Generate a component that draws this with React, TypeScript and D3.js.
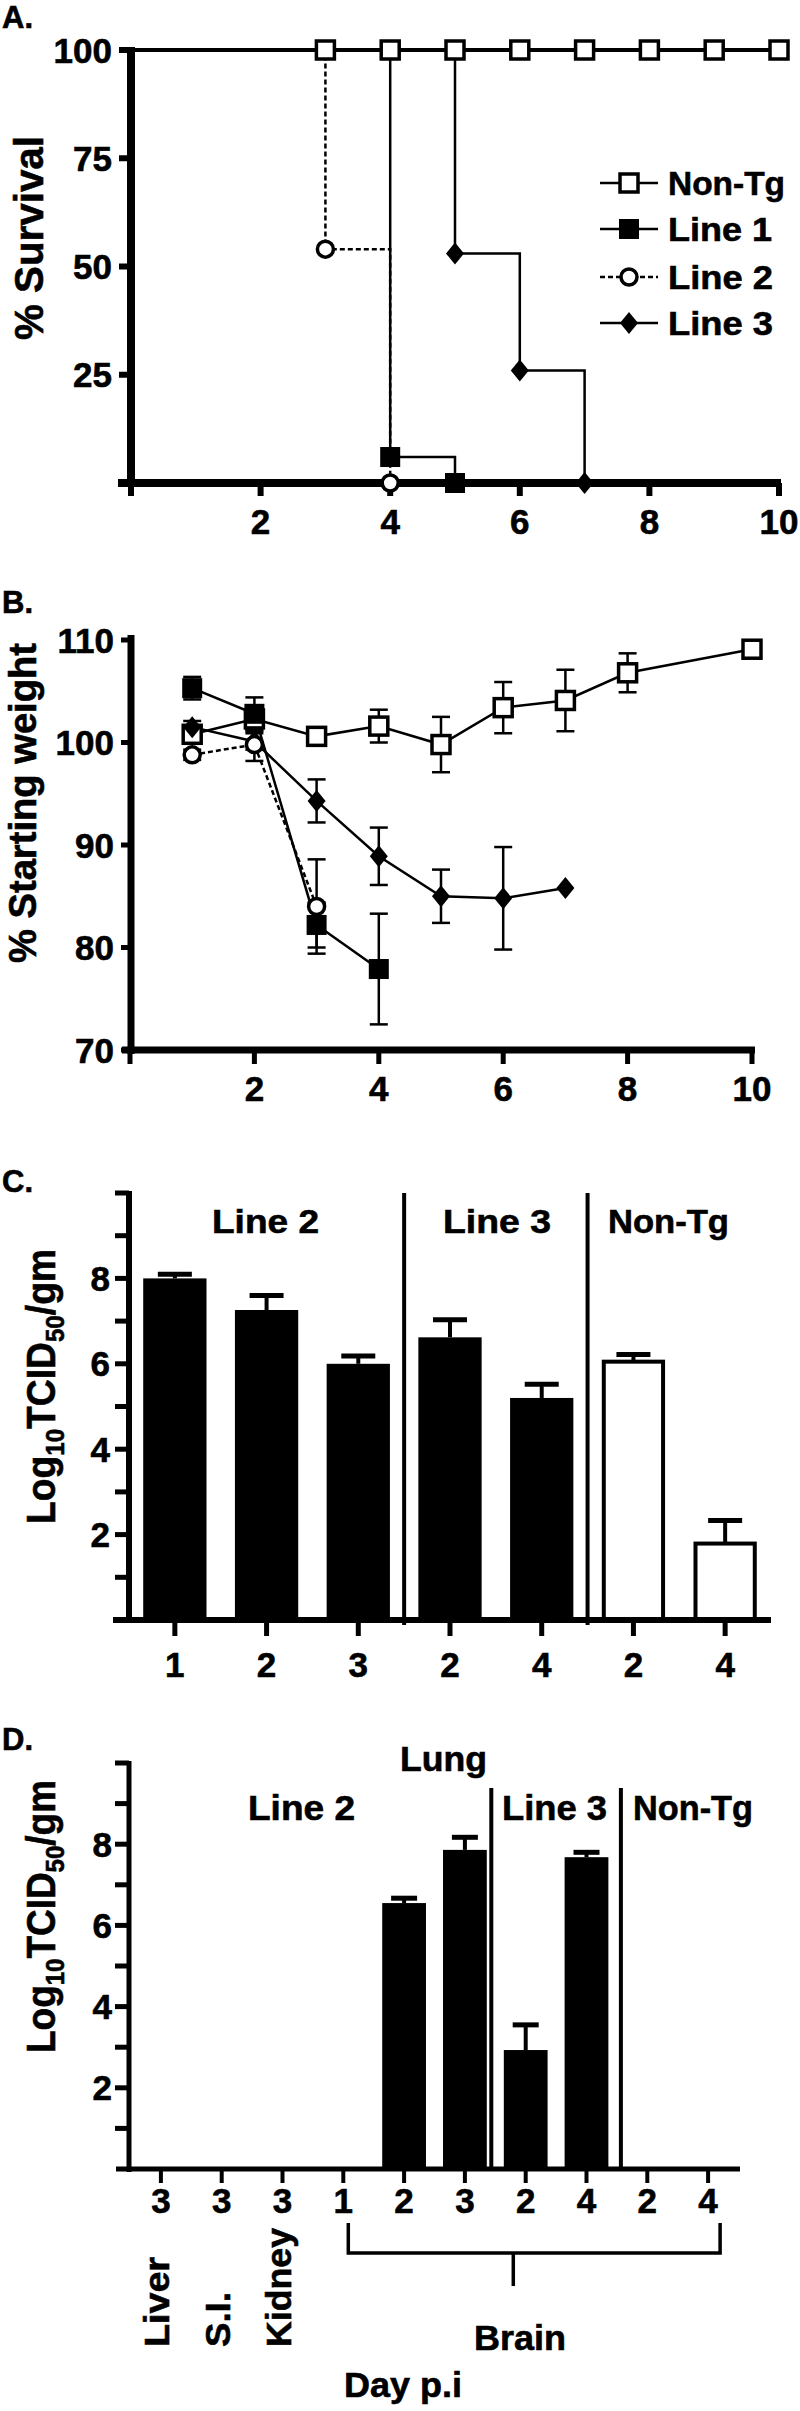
import React from 'react';
import * as d3 from 'd3';

const FONT = '"Liberation Sans", Arial, Helvetica, sans-serif';

// ---------- Panel A: % survival (Kaplan-Meier steps) ----------
const survTicksY = [25, 50, 75, 100];
const survTicksX = [0, 2, 4, 6, 8, 10];
const nonTgSurvDays = [0, 3, 4, 5, 6, 7, 8, 9, 10];
const nonTgSurv = [100, 100, 100, 100, 100, 100, 100, 100, 100];
const line1SurvDays = [0, 4, 5];
const line1Surv = [100, 6, 0];
const line2SurvDays = [0, 3, 4];
const line2Surv = [100, 54, 0];
const line3SurvDays = [0, 5, 6, 7];
const line3Surv = [100, 53, 26, 0];
const legendLabels = ['Non-Tg', 'Line 1', 'Line 2', 'Line 3'];

// ---------- Panel B: % starting weight ----------
const weightTicksY = [70, 80, 90, 100, 110];
const weightTicksX = [0, 2, 4, 6, 8, 10];
const nonTgWDays = [1, 2, 3, 4, 5, 6, 7, 8, 10];
const nonTgW = [100.8, 102.3, 100.6, 101.6, 99.8, 103.4, 104.1, 106.8, 109.1];
const nonTgWErr = [0.8, 1.2, 0.8, 1.6, 2.7, 2.5, 3.0, 1.9, 0];
const line1WDays = [1, 2, 3, 4];
const line1W = [105.3, 102.8, 82.2, 77.9];
const line1WErr = [1.1, 1.6, 2.2, 5.4];
const line2WDays = [1, 2, 3];
const line2W = [98.8, 99.8, 84.0];
const line2WErr = [0.5, 1.6, 4.6];
const line3WDays = [1, 2, 3, 4, 5, 6, 7];
const line3W = [101.5, 100.1, 94.3, 88.9, 85.0, 84.8, 85.8];
const line3WErr = [0.6, 0.8, 2.1, 2.8, 2.6, 5.0, 0];

// ---------- Panel C: brain titers ----------
const titerTicks = [1, 2, 3, 4, 5, 6, 7, 8, 9, 10];
const titerLabels = [2, 4, 6, 8];
const cDays = ['1', '2', '3', '2', '4', '2', '4'];
const cGroup = ['Line 2', 'Line 2', 'Line 2', 'Line 3', 'Line 3', 'Non-Tg', 'Non-Tg'];
const cTiter = [8.0, 7.26, 6.0, 6.62, 5.2, 6.05, 1.79];
const cTiterErr = [0.1, 0.34, 0.18, 0.41, 0.32, 0.17, 0.54];
const cGroupNames = ['Line 2', 'Line 3', 'Non-Tg'];

// ---------- Panel D: organ titers ----------
const dDays = ['3', '3', '3', '1', '2', '3', '2', '4', '2', '4'];
const dTiter = [0, 0, 0, 0, 6.55, 7.86, 2.93, 7.68, 0, 0];
const dTiterErr = [0, 0, 0, 0, 0.12, 0.31, 0.62, 0.12, 0, 0];
const dOrgans = ['Liver', 'S.I.', 'Kidney'];

type MType = 'openSquare' | 'filledSquare' | 'openCircle' | 'diamond';

function Marker({ type, x, y }: { type: MType; x: number; y: number }) {
  if (type === 'openSquare')
    return <rect x={x - 9} y={y - 9} width={18} height={18} fill="#fff" stroke="#000" strokeWidth={3.5} />;
  if (type === 'filledSquare')
    return <rect x={x - 10} y={y - 10} width={20} height={20} fill="#000" />;
  if (type === 'openCircle')
    return <circle cx={x} cy={y} r={8} fill="#fff" stroke="#000" strokeWidth={3.5} />;
  return <path d={`M${x},${y - 11}L${x + 9},${y}L${x},${y + 11}L${x - 9},${y}Z`} fill="#000" />;
}

const T = (props: any) => (
  <text
    fontFamily={FONT}
    fontWeight="bold"
    fill="#000"
    stroke="#000"
    strokeWidth={0.6}
    lengthAdjust={props.textLength ? 'spacingAndGlyphs' : undefined}
    {...props}
  />
);

export default function App() {
  // ---- A scales
  const ax = d3.scaleLinear().domain([0, 10]).range([131, 779]);
  const ay = d3.scaleLinear().domain([0, 100]).range([483, 50]);
  const step = (xs: number[], ys: number[]) =>
    d3.line<number>().x((_d, i) => ax(xs[i])).y((_d, i) => ay(ys[i])).curve(d3.curveStepAfter)(xs) || '';

  // ---- B scales
  const bx = d3.scaleLinear().domain([0, 10]).range([130, 752]);
  const by = d3.scaleLinear().domain([70, 110]).range([1050, 640]);
  const wline = (xs: number[], ys: number[]) =>
    d3.line<number>().x((_d, i) => bx(xs[i])).y((_d, i) => by(ys[i]))(xs) || '';

  // ---- C scales
  const cx = d3.scalePoint<number>().domain(d3.range(cDays.length)).range([129, 771]).padding(0.5);
  const cy = d3.scaleLinear().domain([0, 10]).range([1620, 1193]);
  const cBarW = cx.step() * 0.69;

  // ---- D scales
  const dx = d3.scalePoint<number>().domain(d3.range(dDays.length)).range([130.5, 738.5]).padding(0.5);
  const dy = d3.scaleLinear().domain([0, 10]).range([2169, 1763]);
  const dBarW = dx.step() * 0.72;

  const wSeries = [
    { days: nonTgWDays, vals: nonTgW, err: nonTgWErr, m: 'openSquare' as MType, dash: '' },
    { days: line3WDays, vals: line3W, err: line3WErr, m: 'diamond' as MType, dash: '' },
    { days: line2WDays, vals: line2W, err: line2WErr, m: 'openCircle' as MType, dash: '5,3' },
    { days: line1WDays, vals: line1W, err: line1WErr, m: 'filledSquare' as MType, dash: '' },
  ];

  const sSeries = [
    { days: line3SurvDays, vals: line3Surv, m: 'diamond' as MType, dash: '', w: 2.5 },
    { days: line2SurvDays, vals: line2Surv, m: 'openCircle' as MType, dash: '5,3', w: 2.5 },
    { days: line1SurvDays, vals: line1Surv, m: 'filledSquare' as MType, dash: '', w: 2.5 },
    { days: nonTgSurvDays, vals: nonTgSurv, m: 'openSquare' as MType, dash: '', w: 4 },
  ];
  const legendTypes: MType[] = ['openSquare', 'filledSquare', 'openCircle', 'diamond'];
  const legendDash = ['', '', '5,3', ''];
  const legendLen = [117, 104, 105, 105];

  const cSep = [(cx(2)! + cx(3)!) / 2, (cx(4)! + cx(5)!) / 2];
  const dSep = [(dx(5)! + dx(6)!) / 2 - 4, (dx(7)! + dx(8)!) / 2 + 4];
  const cGroupLen = [107, 108, 121];
  const cGroupStart = [212, 443, 608];
  const organLen = [90, 55, 119];

  const sub = (s: number) => (
    <>
      Log<tspan fontSize={s} dy={9}>10</tspan>
      <tspan dy={-9}>TCID</tspan>
      <tspan fontSize={s} dy={9}>50</tspan>
      <tspan dy={-9}>/gm</tspan>
    </>
  );

  return (
    <svg width={800} height={2411} style={{ position: 'absolute', left: 0, top: 0, background: '#fff' }}>
      <rect x={0} y={0} width={800} height={2411} fill="#fff" />

      {/* ================= PANEL A ================= */}
      <T x={2} y={28} fontSize={31}>A.</T>
      <T transform={`translate(43,340) rotate(-90)`} fontSize={40} textLength={204}>% Survival</T>
      {sSeries.map((s, k) => (
        <path key={k} d={step(s.days, s.vals)} fill="none" stroke="#000" strokeWidth={s.w} strokeDasharray={s.dash} />
      ))}
      <line x1={131} x2={131} y1={ay(100) - 3} y2={ay(0) + 4} stroke="#000" strokeWidth={8} />
      <line x1={118} x2={781} y1={ay(0)} y2={ay(0)} stroke="#000" strokeWidth={8} />
      {survTicksY.map((v) => (
        <g key={v}>
          <line x1={119} x2={131} y1={ay(v)} y2={ay(v)} stroke="#000" strokeWidth={6} />
          <T x={112} y={ay(v)} dy="0.36em" fontSize={35} textAnchor="end">{v}</T>
        </g>
      ))}
      {survTicksX.map((v) => (
        <g key={v}>
          <line x1={ax(v)} x2={ax(v)} y1={ay(0)} y2={ay(0) + 13} stroke="#000" strokeWidth={6} />
          {v > 0 && <T x={ax(v)} y={534} fontSize={35} textAnchor="middle">{v}</T>}
        </g>
      ))}
      {sSeries.map((s, k) =>
        s.days.slice(1).map((d, i) => <Marker key={`${k}-${i}`} type={s.m} x={ax(d)} y={ay(s.vals[i + 1])} />)
      )}
      {legendLabels.map((lab, i) => {
        const yy = [183, 229, 277, 323][i];
        return (
          <g key={lab}>
            <line x1={600} x2={658} y1={yy} y2={yy} stroke="#000" strokeWidth={2.5} strokeDasharray={legendDash[i]} />
            <Marker type={legendTypes[i]} x={629} y={yy} />
            <T x={668} y={yy} dy="0.36em" fontSize={34} textLength={legendLen[i]}>{lab}</T>
          </g>
        );
      })}

      {/* ================= PANEL B ================= */}
      <T x={2} y={613} fontSize={31}>B.</T>
      <T transform={`translate(36,963) rotate(-90)`} fontSize={38} textLength={320}>% Starting weight</T>
      {wSeries.map((s, k) => (
        <path key={k} d={wline(s.days, s.vals)} fill="none" stroke="#000" strokeWidth={2.5} strokeDasharray={s.dash} />
      ))}
      {wSeries.map((s, k) =>
        s.days.map((d, i) =>
          s.err[i] > 0 ? (
            <g key={`e${k}-${i}`} stroke="#000" strokeWidth={2.5}>
              <line x1={bx(d)} x2={bx(d)} y1={by(s.vals[i] - s.err[i])} y2={by(s.vals[i] + s.err[i])} />
              <line x1={bx(d) - 9} x2={bx(d) + 9} y1={by(s.vals[i] + s.err[i])} y2={by(s.vals[i] + s.err[i])} />
              <line x1={bx(d) - 9} x2={bx(d) + 9} y1={by(s.vals[i] - s.err[i])} y2={by(s.vals[i] - s.err[i])} />
            </g>
          ) : null
        )
      )}
      {wSeries.map((s, k) => s.days.map((d, i) => <Marker key={`m${k}-${i}`} type={s.m} x={bx(d)} y={by(s.vals[i])} />))}
      <line x1={131} x2={131} y1={by(110) - 5} y2={by(70) + 4} stroke="#000" strokeWidth={7} />
      <line x1={122} x2={755} y1={by(70)} y2={by(70)} stroke="#000" strokeWidth={7} />
      {weightTicksY.map((v) => (
        <g key={v}>
          <line x1={121} x2={131} y1={by(v)} y2={by(v)} stroke="#000" strokeWidth={5} />
          <T x={114} y={by(v)} dy="0.36em" fontSize={35} textAnchor="end">{v}</T>
        </g>
      ))}
      {weightTicksX.map((v) => (
        <g key={v}>
          <line x1={bx(v)} x2={bx(v)} y1={by(70)} y2={by(70) + 14} stroke="#000" strokeWidth={5} />
          {v > 0 && <T x={bx(v)} y={1101} fontSize={35} textAnchor="middle">{v}</T>}
        </g>
      ))}

      {/* ================= PANEL C ================= */}
      <T x={2} y={1192} fontSize={31}>C.</T>
      <T transform={`translate(55,1524) rotate(-90)`} fontSize={40} textLength={275}>
        {sub(26)}
      </T>
      {cTiter.map((v, i) => {
        const white = cGroup[i] === 'Non-Tg';
        const xc = cx(i)!;
        return (
          <g key={i}>
            <line x1={xc} x2={xc} y1={cy(v)} y2={cy(v + cTiterErr[i])} stroke="#000" strokeWidth={4} />
            <line x1={xc - 17} x2={xc + 17} y1={cy(v + cTiterErr[i])} y2={cy(v + cTiterErr[i])} stroke="#000" strokeWidth={5} />
            <rect
              x={xc - cBarW / 2 + (white ? 2 : 0)}
              y={cy(v)}
              width={cBarW - (white ? 4 : 0)}
              height={cy(0) - cy(v)}
              fill={white ? '#fff' : '#000'}
              stroke="#000"
              strokeWidth={white ? 4 : 0}
            />
          </g>
        );
      })}
      {cSep.map((x, i) => (
        <line key={i} x1={x} x2={x} y1={cy(10)} y2={cy(0) + 5} stroke="#000" strokeWidth={4} />
      ))}
      {cGroupNames.map((g, i) => (
        <T key={g} x={cGroupStart[i]} y={1233} fontSize={34} textLength={cGroupLen[i]}>{g}</T>
      ))}
      <line x1={129} x2={129} y1={cy(10) - 2} y2={cy(0) + 3} stroke="#000" strokeWidth={6} />
      <line x1={113} x2={771} y1={cy(0)} y2={cy(0)} stroke="#000" strokeWidth={6} />
      {titerTicks.map((v) => (
        <line key={v} x1={115} x2={129} y1={cy(v)} y2={cy(v)} stroke="#000" strokeWidth={5} />
      ))}
      {titerLabels.map((v) => (
        <T key={v} x={110} y={cy(v)} dy="0.36em" fontSize={35} textAnchor="end">{v}</T>
      ))}
      {cDays.map((d, i) => (
        <g key={i}>
          <line x1={cx(i)!} x2={cx(i)!} y1={cy(0)} y2={cy(0) + 16} stroke="#000" strokeWidth={5} />
          <T x={cx(i)!} y={1677} fontSize={35} textAnchor="middle">{d}</T>
        </g>
      ))}

      {/* ================= PANEL D ================= */}
      <T x={2} y={1750} fontSize={31}>D.</T>
      <T transform={`translate(55,2053) rotate(-90)`} fontSize={40} textLength={273}>
        {sub(26)}
      </T>
      {dTiter.map((v, i) => {
        if (v <= 0) return null;
        const xc = dx(i)!;
        return (
          <g key={i}>
            <line x1={xc} x2={xc} y1={dy(v)} y2={dy(v + dTiterErr[i])} stroke="#000" strokeWidth={4} />
            <line x1={xc - 13} x2={xc + 13} y1={dy(v + dTiterErr[i])} y2={dy(v + dTiterErr[i])} stroke="#000" strokeWidth={5} />
            <rect x={xc - dBarW / 2} y={dy(v)} width={dBarW} height={dy(0) - dy(v)} fill="#000" />
          </g>
        );
      })}
      {dSep.map((x, i) => (
        <line key={i} x1={x} x2={x} y1={1788} y2={dy(0)} stroke="#000" strokeWidth={4} />
      ))}
      <T x={400} y={1771} fontSize={35} textLength={87}>Lung</T>
      <T x={248} y={1820} fontSize={35} textLength={107}>Line 2</T>
      <T x={502} y={1820} fontSize={35} textLength={105}>Line 3</T>
      <T x={633} y={1820} fontSize={35} textLength={120}>Non-Tg</T>
      <line x1={129} x2={129} y1={dy(10) - 2} y2={dy(0) + 3} stroke="#000" strokeWidth={5} />
      <line x1={116} x2={740} y1={dy(0)} y2={dy(0)} stroke="#000" strokeWidth={5} />
      {titerTicks.map((v) => (
        <line key={v} x1={115} x2={129} y1={dy(v)} y2={dy(v)} stroke="#000" strokeWidth={5} />
      ))}
      {titerLabels.map((v) => (
        <T key={v} x={112} y={dy(v)} dy="0.36em" fontSize={35} textAnchor="end">{v}</T>
      ))}
      {dDays.map((d, i) => (
        <g key={i}>
          <line x1={dx(i)!} x2={dx(i)!} y1={dy(0)} y2={dy(0) + 14} stroke="#000" strokeWidth={4} />
          <T x={dx(i)!} y={2213} fontSize={35} textAnchor="middle">{d}</T>
        </g>
      ))}
      {dOrgans.map((o, i) => (
        <T key={o} transform={`translate(${dx(i)! + 8},2347) rotate(-90)`} fontSize={35} textLength={organLen[i]}>{o}</T>
      ))}
      <path
        d={`M${dx(3)! + 5},2223V2253H${dx(9)! + 12}V2223M${(dx(5)! + dx(6)!) / 2 + 18},2253V2286`}
        fill="none"
        stroke="#000"
        strokeWidth={3.5}
      />
      <T x={474} y={2350} fontSize={35} textLength={92}>Brain</T>
      <T x={344} y={2397} fontSize={35} textLength={118}>Day p.i</T>
    </svg>
  );
}
